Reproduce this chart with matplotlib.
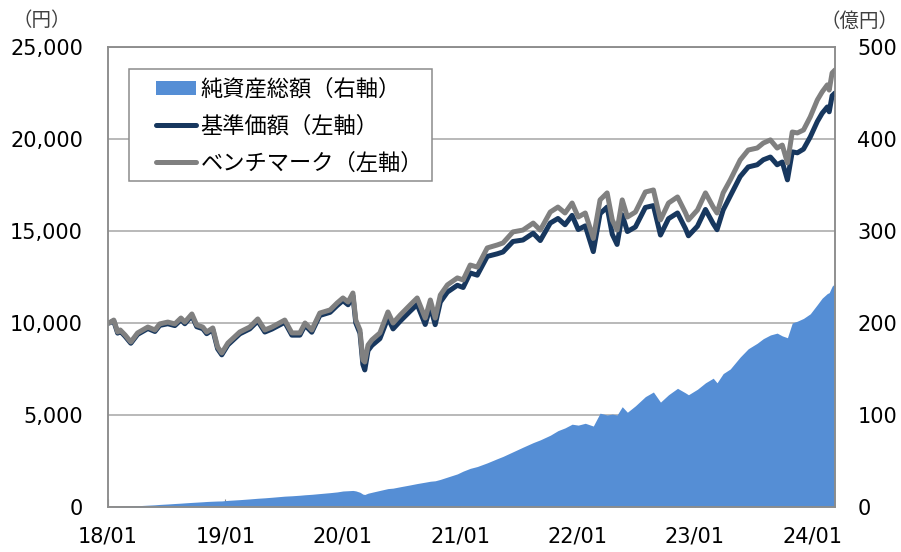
import pandas as pd
import matplotlib
matplotlib.use('Agg')
import matplotlib.pyplot as plt
import matplotlib.dates as mdates
from matplotlib.patches import Patch, Rectangle
from matplotlib.lines import Line2D

plt.rcParams['font.family'] = ['DejaVu Sans', 'Noto Sans CJK JP']

dates = [
    '2018-01-04', '2018-01-19', '2018-01-31', '2018-02-08', '2018-02-23', '2018-03-13',
    '2018-04-03', '2018-05-05', '2018-05-27', '2018-06-11', '2018-07-06', '2018-07-28',
    '2018-08-16', '2018-08-28', '2018-09-19', '2018-10-04', '2018-10-23', '2018-11-04',
    '2018-11-23', '2018-12-08', '2018-12-21', '2019-01-09', '2019-02-15', '2019-03-18',
    '2019-04-12', '2019-05-04', '2019-05-26', '2019-07-05', '2019-07-27', '2019-08-21',
    '2019-09-06', '2019-09-27', '2019-10-22', '2019-11-23', '2019-12-15', '2020-01-02',
    '2020-01-18', '2020-02-02', '2020-02-11', '2020-02-24', '2020-03-04', '2020-03-10',
    '2020-03-20', '2020-04-01', '2020-04-26', '2020-05-21', '2020-06-06', '2020-06-28',
    '2020-07-29', '2020-08-20', '2020-09-14', '2020-09-30', '2020-10-15', '2020-10-31',
    '2020-11-22', '2020-12-23', '2021-01-10', '2021-02-01', '2021-02-23', '2021-03-26',
    '2021-04-26', '2021-05-14', '2021-06-14', '2021-07-15', '2021-08-16', '2021-09-07',
    '2021-10-08', '2021-11-01', '2021-11-23', '2021-12-15', '2022-01-03', '2022-01-25',
    '2022-02-19', '2022-03-12', '2022-04-03', '2022-04-19', '2022-05-04', '2022-05-20',
    '2022-06-05', '2022-06-30', '2022-07-31', '2022-08-25', '2022-09-16', '2022-10-11',
    '2022-11-08', '2022-12-03', '2022-12-12', '2023-01-09', '2023-02-03', '2023-02-27',
    '2023-03-11', '2023-03-30', '2023-04-21', '2023-05-22', '2023-06-16', '2023-07-14',
    '2023-08-02', '2023-08-24', '2023-09-14', '2023-09-30', '2023-10-16', '2023-10-31',
    '2023-11-16', '2023-12-05', '2023-12-26', '2024-01-17', '2024-02-01', '2024-02-17',
    '2024-02-23', '2024-03-03', '2024-03-12',
]

# ベンチマーク（左軸, 円）
bench = [
    10000, 10160, 9510, 9620, 9350, 8970,
    9460, 9780, 9620, 9950, 10050, 9950,
    10270, 10050, 10490, 9890, 9780, 9510,
    9730, 8700, 8370, 8910, 9510, 9780,
    10220, 9620, 9780, 10160, 9460, 9460,
    10000, 9620, 10540, 10710, 11090, 11360,
    11140, 11630, 10160, 9620, 7990, 7880,
    8800, 9080, 9460, 10600, 10000, 10430,
    10980, 11360, 10270, 11250, 10270, 11520,
    12070, 12450, 12340, 13150, 13040, 14080,
    14240, 14350, 14950, 15050, 15430, 15050,
    16030, 16300, 15980, 16520, 15760, 15980,
    14600, 16690, 17070, 15600, 15050, 16690,
    15760, 16030, 17120, 17230, 15600, 16520,
    16850, 15980, 15600, 16140, 17070, 16300,
    15980, 17070, 17770, 18860, 19400, 19510,
    19780, 19950, 19510, 19670, 18700, 20380,
    20330, 20490, 21200, 22120, 22560, 22940,
    22660, 23590, 23750,
]

# 基準価額（左軸, 円）
nav = [
    10000, 10100, 9450, 9560, 9280, 8900,
    9380, 9700, 9540, 9870, 9960, 9860,
    10180, 9960, 10400, 9800, 9690, 9420,
    9640, 8600, 8270, 8810, 9410, 9680,
    10110, 9510, 9670, 10040, 9340, 9340,
    9880, 9500, 10410, 10580, 10950, 11220,
    10990, 11480, 10000, 9440, 7750, 7450,
    8500, 8780, 9150, 10280, 9680, 10100,
    10640, 11010, 9920, 10890, 9910, 11140,
    11680, 12050, 11930, 12720, 12600, 13620,
    13760, 13860, 14430, 14510, 14880, 14480,
    15430, 15680, 15340, 15850, 15080, 15280,
    13880, 15940, 16300, 14820, 14270, 15880,
    14970, 15220, 16280, 16380, 14780, 15670,
    15980, 15120, 14740, 15260, 16170, 15400,
    15070, 16140, 16900, 17960, 18480, 18600,
    18870, 19020, 18600, 18750, 17780, 19300,
    19250, 19450, 20110, 20950, 21400, 21740,
    21480, 22350, 22500,
]

# 純資産総額（右軸, 億円）
net_assets = [
    0.1, 0.3, 0.5, 0.6, 0.8, 1.0,
    1.4, 2.0, 2.4, 2.8, 3.3, 3.8,
    4.2, 4.5, 5.0, 5.3, 5.7, 6.0,
    6.3, 6.5, 6.6, 7.2, 8.0, 8.8,
    9.5, 10.0, 10.6, 11.8, 12.2, 12.8,
    13.3, 13.8, 14.6, 15.6, 16.4, 17.4,
    17.7, 18.0, 17.5, 16.0, 14.0, 13.6,
    15.0, 16.0, 18.0, 20.0, 20.5, 22.0,
    24.0, 25.5, 27.0, 28.0, 28.5, 30.0,
    32.5, 36.0, 39.0, 42.0, 44.0, 48.0,
    52.5, 55.0, 60.0, 65.0, 70.0, 73.0,
    78.0, 83.0, 86.0, 90.0, 89.0, 91.0,
    88.0, 102.0, 100.0, 101.0, 100.0, 109.0,
    103.0, 110.0, 120.0, 125.0, 114.0, 122.0,
    129.0, 124.0, 122.0, 128.0, 135.0, 140.0,
    135.0, 145.0, 150.0, 163.0, 172.0, 178.0,
    183.0, 187.0, 189.0, 186.0, 184.0, 200.0,
    202.0, 205.0, 210.0, 220.0, 227.0, 232.0,
    233.0, 240.0, 243.0,
]

labels = ['純資産総額（右軸）', '基準価額（左軸）', 'ベンチマーク（左軸）']

x = pd.to_datetime(dates)

blue = '#558ed5'
navy = '#17375e'
gray = '#808080'
frame = '#8c8c8c'
jp = ['Noto Sans CJK JP', 'DejaVu Sans']

W, H = 901, 552
fig = plt.figure(figsize=(W / 100, H / 100), dpi=100)
ax2 = fig.add_axes([108 / W, 1 - 507 / H, 727 / W, 460 / H])   # 右軸 (面)
ax = ax2.twinx()                                                # 左軸 (線)
ax.yaxis.tick_left()
ax2.yaxis.tick_right()
ax.set_zorder(ax2.get_zorder() + 1)
ax.patch.set_visible(False)

ax2.fill_between(x, 0, net_assets, color=blue, linewidth=0, zorder=2)
ax2.set_ylim(0, 500)
ax2.set_yticks(range(0, 501, 100))
ax2.set_axisbelow(True)
ax2.grid(axis='y', color='#a6a6a6', linewidth=1.1, zorder=0)

ax.plot(x, nav, color=navy, linewidth=3.6, solid_capstyle='round', solid_joinstyle='round')
ax.plot(x, bench, color=gray, linewidth=3.6, solid_capstyle='round', solid_joinstyle='round')
ax.set_ylim(0, 25000)
ax.set_yticks(range(0, 25001, 5000))
ax.yaxis.set_major_formatter(matplotlib.ticker.FuncFormatter(lambda v, p: f'{int(v):,}'))

ax2.set_xlim(pd.Timestamp('2018-01-01'), x[-1])
ax2.xaxis.set_major_locator(mdates.YearLocator())
ax2.xaxis.set_major_formatter(mdates.DateFormatter('%y/%m'))

for a in (ax, ax2):
    for s in a.spines.values():
        s.set_color(frame)
        s.set_linewidth(1.1)

ax.tick_params(axis='y', length=0, pad=18, labelsize=15)
ax2.tick_params(axis='y', length=0, pad=16, labelsize=15)
ax2.tick_params(axis='x', direction='in', length=6, color=frame, pad=14, labelsize=15)

fig.text(42 / W, 1 - 21 / H, '（円）', fontsize=14, color='#404040',
         ha='center', va='center', family=jp)
fig.text(899 / W, 1 - 21 / H, '（億円）', fontsize=14, color='#404040',
         ha='right', va='center', family=jp)

# 凡例の枠
box = Rectangle((129 / W, 1 - 181 / H), 303 / W, 112 / H, transform=fig.transFigure,
                facecolor='white', edgecolor=frame, linewidth=1.1, zorder=6)
ax.add_artist(box)

handles = [
    Patch(facecolor=blue, edgecolor='none'),
    Line2D([], [], color=navy, linewidth=3.6, solid_capstyle='round'),
    Line2D([], [], color=gray, linewidth=3.6, solid_capstyle='round'),
]
leg = ax.legend(handles, labels, loc='upper left', bbox_to_anchor=(156 / W, 1 - 78 / H),
                bbox_transform=fig.transFigure, frameon=False,
                prop={'family': jp, 'size': 16},
                handlelength=1.8, handleheight=0.6, handletextpad=0.2,
                labelspacing=0.62, borderpad=0, borderaxespad=0)
leg.set_zorder(7)

fig.savefig('out.png', dpi=100)
